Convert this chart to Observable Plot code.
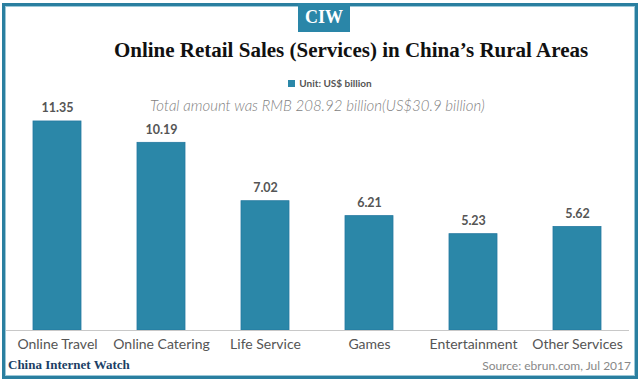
<!DOCTYPE html>
<html><head><meta charset="utf-8">
<script src="https://cdn.jsdelivr.net/npm/d3@7"></script>
<script src="https://cdn.jsdelivr.net/npm/@observablehq/plot@0.6"></script>
<style>
body{margin:0;background:#fff;}
#wrap{position:relative;width:640px;height:382px;overflow:hidden;background:#fff;}
#frame{position:absolute;left:2px;top:3px;width:630px;height:370px;border:3px solid #2a7fa0;box-shadow:inset 0 0 0 1px #9cc8d8;}
#plot{position:absolute;left:0;top:0;}
.t{position:absolute;white-space:nowrap;}
#ciw{left:298px;top:3px;width:52px;height:29px;background:#2a86a8;color:#fff;font:bold 18px "Liberation Serif",serif;text-align:center;line-height:29px;}
#title{left:0;width:640px;text-align:center;top:38px;padding-left:62px;box-sizing:border-box;font:bold 21px "Liberation Serif","DejaVu Serif",serif;color:#111;}
#legend{left:0;width:640px;padding-left:20px;box-sizing:border-box;text-align:center;top:77px;font:bold 10px "Lato",sans-serif;color:#555;}
#legend span.sw{display:inline-block;width:7px;height:7px;background:#2b87a8;margin-right:4px;vertical-align:0px;}
#sub{left:150px;top:96px;font:italic 300 15px "Lato",sans-serif;color:#7f7f7f;}
#cin{left:8px;top:357px;font:bold 13px "Liberation Serif",serif;color:#1c3f66;}
#src{right:9px;top:358px;font:12px "Lato",sans-serif;color:#888;}
</style></head>
<body>
<div id="wrap">
<div id="plot"></div>
<div id="frame"></div>
<div class="t" id="ciw">CIW</div>
<div class="t" id="title">Online Retail Sales (Services) in China’s Rural Areas</div>
<div class="t" id="legend"><span class="sw"></span>Unit: US$ billion</div>
<div class="t" id="sub">Total amount was RMB 208.92 billion(US$30.9 billion)</div>
<div class="t" id="cin">China Internet Watch</div>
<div class="t" id="src">Source: ebrun.com, Jul 2017</div>
</div>
<script>
const categories = ["Online Travel","Online Catering","Life Service","Games","Entertainment","Other Services"];
const values = [11.35, 10.19, 7.02, 6.21, 5.23, 5.62];
const labels = ["11.35","10.19","7.02","6.21","5.23","5.62"];

const data = categories.map((c,i)=>({category:c, value:values[i], label:labels[i]}));

const chart = Plot.plot({
  width: 640,
  height: 382,
  marginLeft: 5,
  marginRight: 11,
  marginTop: 109,
  marginBottom: 52,
  style: {fontFamily: "Lato, sans-serif", background: "transparent"},
  x: {domain: categories, paddingInner: 0.54, paddingOuter: 0.27, label: null},
  y: {domain: [0, 12], axis: null},
  marks: [
    Plot.barY(data, {x: "category", y: "value", fill: "#2b87a8", stroke: "#2478a0", strokeWidth: 0.8}),
    Plot.ruleY([0], {stroke: "#c8c8c8", strokeWidth: 1.2}),
    Plot.text(data, {x: "category", y: "value", text: "label", dy: -13, fontSize: 12.5, fontWeight: "bold", fill: "#555"}),
    Plot.axisX({tickSize: 0, tickPadding: 9, fontSize: 14, color: "#555", label: null})
  ]
});
document.getElementById("plot").appendChild(chart);
</script>
</body></html>
